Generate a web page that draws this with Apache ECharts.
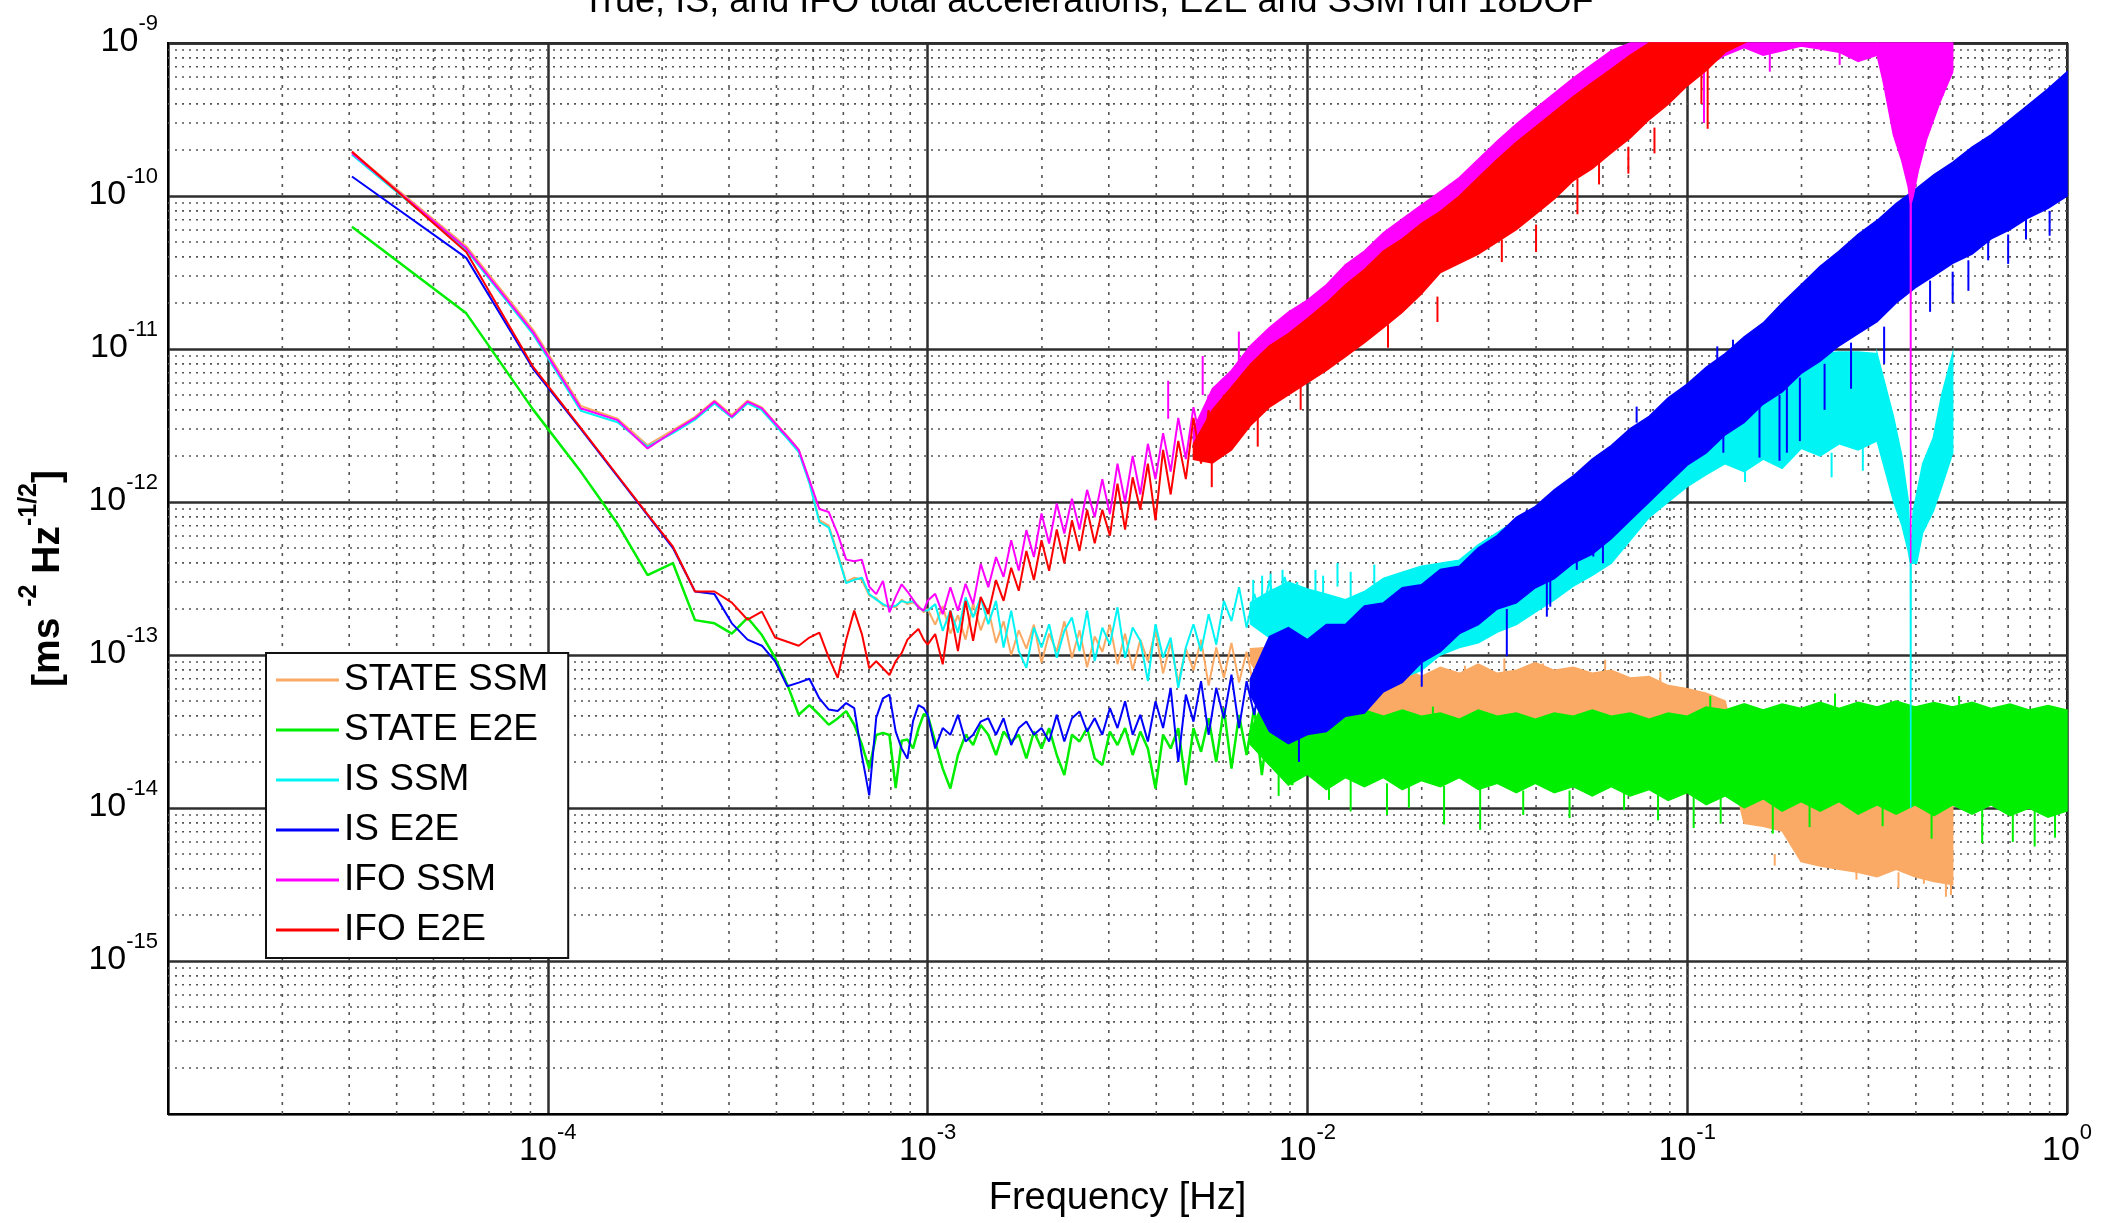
<!DOCTYPE html>
<html>
<head>
<meta charset="utf-8">
<title>True, IS, and IFO total accelerations</title>
<script src="https://cdn.jsdelivr.net/npm/echarts@6/dist/echarts.min.js"></script>
<style>
  html, body { margin: 0; padding: 0; background: #fff; }
  #chart { width: 2105px; height: 1223px; }
</style>
</head>
<body>
<div id="chart"></div>
<script>
// frequency bins of the low part (Hz)
const lowFreq = [3.05e-5, 6.10e-5, 9.16e-5, 1.221e-4, 1.526e-4, 1.831e-4, 2.136e-4, 2.441e-4, 2.747e-4, 3.052e-4,
    3.357e-4, 3.662e-4, 3.967e-4, 4.272e-4, 4.578e-4, 4.883e-4, 5.188e-4, 5.493e-4, 5.798e-4, 6.104e-4,
    6.409e-4, 6.714e-4, 7.019e-4, 7.324e-4, 7.629e-4, 7.935e-4, 8.240e-4, 8.545e-4, 8.850e-4, 9.155e-4,
    9.460e-4, 9.766e-4];

// frequencies of the noisy middle part (Hz)
const midFreq = [1.000e-3, 1.047e-3, 1.096e-3, 1.148e-3, 1.202e-3, 1.259e-3, 1.318e-3, 1.380e-3, 1.445e-3, 1.514e-3,
    1.585e-3, 1.660e-3, 1.738e-3, 1.820e-3, 1.905e-3, 1.995e-3, 2.089e-3, 2.188e-3, 2.291e-3, 2.399e-3,
    2.512e-3, 2.630e-3, 2.754e-3, 2.884e-3, 3.020e-3, 3.162e-3, 3.311e-3, 3.467e-3, 3.631e-3, 3.802e-3,
    3.981e-3, 4.169e-3, 4.365e-3, 4.571e-3, 4.786e-3, 5.012e-3, 5.248e-3, 5.495e-3, 5.754e-3, 6.026e-3,
    6.310e-3, 6.607e-3, 6.918e-3, 7.244e-3, 7.586e-3, 7.943e-3, 8.318e-3, 8.710e-3, 9.120e-3, 9.550e-3,
    1.000e-2];

// frequencies where the dense part is read as an envelope (Hz)
const bandFreq = [5.012e-3, 5.623e-3, 6.310e-3, 7.079e-3, 7.943e-3, 8.913e-3, 1.0e-2, 1.122e-2, 1.259e-2, 1.413e-2,
    1.585e-2, 1.778e-2, 1.995e-2, 2.239e-2, 2.512e-2, 2.818e-2, 3.162e-2, 3.548e-2, 3.981e-2, 4.467e-2,
    5.012e-2, 5.623e-2, 6.310e-2, 7.079e-2, 7.943e-2, 8.913e-2, 0.1, 0.1122, 0.1259, 0.1413,
    0.1585, 0.1778, 0.1995, 0.2239, 0.2512, 0.2818, 0.3162, 0.3548, 0.3981, 0.4467,
    0.5, 0.5623, 0.6310, 0.7079, 0.7943, 0.8913, 1.0];

// STATE SSM
const orangeLow = [1.93e-10, 4.7e-11, 1.33e-11, 4.25e-12, 3.5e-12, 2.35e-12, 2.95e-12, 3.6e-12, 4.6e-12, 3.7e-12,
    4.6e-12, 4.15e-12, 3.3e-12, 2.7e-12, 2.2e-12, 1.35e-12, 7.6e-13, 7.0e-13, 4.6e-13, 3.0e-13,
    3.2e-13, 3.1e-13, 2.45e-13, 2.35e-13, 2.1e-13, 2.1e-13, 2.05e-13, 2.3e-13, 2.15e-13, 2.2e-13,
    2.1e-13, 1.9e-13];
const orangeMid = [2.0e-13, 1.58e-13, 2.09e-13, 1.38e-13, 1.82e-13, 1.26e-13, 2.19e-13, 1.45e-13, 2.0e-13, 1.20e-13,
    1.66e-13, 1.0e-13, 1.45e-13, 1.10e-13, 1.58e-13, 8.91e-14, 1.38e-13, 1.05e-13, 1.66e-13, 9.55e-14,
    1.45e-13, 8.32e-14, 1.32e-13, 1.05e-13, 1.58e-13, 8.71e-14, 1.38e-13, 7.94e-14, 1.26e-13, 9.12e-14,
    1.45e-13, 7.59e-14, 1.20e-13, 6.61e-14, 1.10e-13, 7.94e-14, 1.26e-13, 6.31e-14, 1.12e-13, 7.08e-14,
    1.20e-13, 6.61e-14, 1.05e-13, 6.03e-14, 1.12e-13, 7.24e-14, 1.26e-13, 6.31e-14, 1.05e-13, 7.08e-14,
    1.12e-13];
const orangeHi = [null, null, null, 1.10e-13, 1.12e-13, 1.32e-13, 1.00e-13, 1.05e-13, 7.94e-14, 8.91e-14,
    7.59e-14, 8.32e-14, 7.24e-14, 8.32e-14, 7.59e-14, 8.71e-14, 7.59e-14, 7.94e-14, 8.91e-14, 7.94e-14,
    8.32e-14, 7.59e-14, 7.94e-14, 7.08e-14, 7.24e-14, 6.31e-14, 6.03e-14, 5.62e-14, 5.01e-14, 1.41e-14,
    1.41e-14, 1.41e-14, 1.41e-14, 1.41e-14, 1.41e-14, 1.41e-14, 1.41e-14, 1.41e-14, 1.41e-14, 1.41e-14,
    1.41e-14, null, null, null, null, null, null];
const orangeLo = [null, null, null, 9.0e-14, 5.62e-14, 5.01e-14, 5.25e-14, 4.47e-14, 3.98e-14, 3.55e-14,
    3.55e-14, 3.16e-14, 3.31e-14, 3.16e-14, 3.31e-14, 3.16e-14, 3.31e-14, 3.16e-14, 3.31e-14, 3.16e-14,
    3.31e-14, 3.02e-14, 3.16e-14, 3.02e-14, 3.16e-14, 2.82e-14, 2.82e-14, 2.63e-14, 2.51e-14, 7.94e-15,
    7.59e-15, 7.08e-15, 4.47e-15, 4.17e-15, 3.98e-15, 3.80e-15, 3.55e-15, 3.98e-15, 3.55e-15, 3.31e-15,
    3.16e-15, null, null, null, null, null, null];
const orangeSpikes = [[1.35e-2, 1.5e-13, 1.0e-13], [1.9e-2, 1.2e-13, 8.0e-14], [2.6e-2, 8.5e-14, 6.5e-14],
    [3.3e-2, 9.5e-14, 7.0e-14], [4.17e-2, 8.8e-14, 6.5e-14], [6.08e-2, 9.3e-14, 6.5e-14], [8.5e-2, 7.8e-14, 6.0e-14],
    [0.17, 4.2e-15, 5.0e-15], [0.279, 3.4e-15, 4.2e-15], [0.36, 3.0e-15, 3.8e-15], [0.42, 3.2e-15, 3.8e-15],
    [0.48, 2.63e-15, 3.6e-15], [0.495, 2.7e-15, 3.5e-15]];

// STATE E2E
const greenLow = [6.3e-11, 1.71e-11, 4.0e-12, 1.58e-12, 7.2e-13, 3.33e-13, 3.98e-13, 1.69e-13, 1.61e-13, 1.38e-13,
    1.75e-13, 1.35e-13, 9.6e-14, 6.4e-14, 4.07e-14, 4.7e-14, 4.07e-14, 3.5e-14, 3.85e-14, 4.3e-14,
    3.5e-14, 2.6e-14, 1.81e-14, 3.0e-14, 3.1e-14, 3.0e-14, 1.35e-14, 2.75e-14, 2.8e-14, 2.45e-14,
    3.3e-14, 4.1e-14];
const greenMid = [4.06e-14, 2.72e-14, 1.81e-14, 1.34e-14, 2.22e-14, 3.01e-14, 2.58e-14, 3.49e-14, 3.01e-14, 2.22e-14,
    3.16e-14, 2.72e-14, 3.01e-14, 2.11e-14, 3.16e-14, 2.45e-14, 3.33e-14, 2.22e-14, 1.64e-14, 3.01e-14,
    2.72e-14, 3.33e-14, 2.11e-14, 1.91e-14, 3.16e-14, 2.58e-14, 3.33e-14, 2.22e-14, 3.16e-14, 2.45e-14,
    1.34e-14, 3.01e-14, 2.45e-14, 3.33e-14, 1.41e-14, 3.33e-14, 2.33e-14, 3.86e-14, 2.00e-14, 4.50e-14,
    1.81e-14, 4.06e-14, 2.22e-14, 4.50e-14, 1.64e-14, 4.06e-14, 2.00e-14, 4.28e-14, 1.41e-14, 3.86e-14,
    2.22e-14];
const greenHi = [null, null, null, 3.2e-14, 6.03e-14, 7.08e-14, 5.62e-14, 5.01e-14, 4.17e-14, 4.37e-14,
    3.98e-14, 4.37e-14, 3.98e-14, 4.17e-14, 3.80e-14, 4.37e-14, 3.98e-14, 4.17e-14, 3.80e-14, 4.17e-14,
    3.98e-14, 4.37e-14, 3.98e-14, 4.17e-14, 3.80e-14, 4.17e-14, 3.98e-14, 4.57e-14, 4.37e-14, 4.79e-14,
    4.37e-14, 4.79e-14, 4.47e-14, 4.90e-14, 4.47e-14, 4.90e-14, 4.57e-14, 5.01e-14, 4.57e-14, 4.90e-14,
    4.57e-14, 4.90e-14, 4.47e-14, 4.79e-14, 4.37e-14, 4.68e-14, 4.37e-14];
const greenLo = [null, null, null, 2.6e-14, 1.91e-14, 1.41e-14, 1.66e-14, 1.32e-14, 1.58e-14, 1.38e-14,
    1.58e-14, 1.32e-14, 1.51e-14, 1.38e-14, 1.58e-14, 1.32e-14, 1.45e-14, 1.26e-14, 1.45e-14, 1.26e-14,
    1.38e-14, 1.20e-14, 1.38e-14, 1.20e-14, 1.32e-14, 1.12e-14, 1.26e-14, 1.05e-14, 1.20e-14, 1.00e-14,
    1.15e-14, 9.55e-15, 1.10e-14, 9.55e-15, 1.10e-14, 9.12e-15, 1.05e-14, 9.12e-15, 1.05e-14, 8.91e-15,
    1.05e-14, 9.12e-15, 1.05e-14, 8.91e-15, 1.00e-14, 8.71e-15, 9.55e-15];
const greenSpikes = [[8.4e-3, 1.2e-14, 2.2e-14], [1.14e-2, 1.13e-14, 2.0e-14], [1.3e-2, 9.5e-15, 1.6e-14],
    [1.62e-2, 9.0e-15, 1.45e-14], [1.85e-2, 1.0e-14, 1.5e-14], [2.29e-2, 7.8e-15, 1.4e-14],
    [2.85e-2, 7.2e-15, 1.5e-14], [3.7e-2, 9.0e-15, 1.3e-14], [4.9e-2, 8.6e-15, 1.3e-14], [6.82e-2, 9.7e-15, 1.4e-14],
    [8.38e-2, 8.3e-15, 1.3e-14], [0.104, 7.4e-15, 1.2e-14], [0.1225, 7.9e-15, 1.2e-14], [0.168, 6.8e-15, 1.1e-14],
    [0.21, 7.5e-15, 1.1e-14], [0.327, 7.6e-15, 1.05e-14], [0.44, 6.3e-15, 1.0e-14], [0.598, 5.9e-15, 1.05e-14],
    [0.72, 6.0e-15, 1.0e-14], [0.822, 5.6e-15, 1.0e-14], [0.93, 6.4e-15, 1.0e-14],
    [1.05e-2, 8.0e-14, 5.0e-14], [2.14e-2, 4.6e-14, 3.6e-14], [0.115, 5.4e-14, 4.3e-14], [0.245, 5.6e-14, 4.4e-14],
    [0.52, 5.4e-14, 4.4e-14]];

// IS SSM
const cyanLow = [1.86e-10, 4.45e-11, 1.24e-11, 3.95e-12, 3.32e-12, 2.3e-12, 2.82e-12, 3.45e-12, 4.4e-12, 3.55e-12,
    4.42e-12, 3.98e-12, 3.18e-12, 2.6e-12, 2.12e-12, 1.33e-12, 7.4e-13, 6.8e-13, 4.5e-13, 2.95e-13,
    3.1e-13, 3.2e-13, 2.5e-13, 2.3e-13, 2.15e-13, 2.05e-13, 2.1e-13, 2.25e-13, 2.2e-13, 2.25e-13,
    2.05e-13, 1.95e-13];
const cyanMid = [1.95e-13, 2.15e-13, 1.44e-13, 1.95e-13, 1.40e-13, 2.38e-13, 1.76e-13, 2.38e-13, 1.59e-13, 2.26e-13,
    1.12e-13, 1.95e-13, 1.06e-13, 8.24e-14, 1.51e-13, 1.12e-13, 1.59e-13, 9.59e-14, 1.44e-13, 1.76e-13,
    1.06e-13, 1.95e-13, 9.12e-14, 1.51e-13, 1.17e-13, 2.05e-13, 9.59e-14, 1.51e-13, 1.24e-13, 6.75e-14,
    1.59e-13, 9.59e-14, 1.30e-13, 6.10e-14, 1.12e-13, 1.59e-13, 1.06e-13, 1.85e-13, 1.17e-13, 2.26e-13,
    1.67e-13, 2.77e-13, 1.51e-13, 2.51e-13, 1.76e-13, 3.07e-13, 1.85e-13, 3.24e-13, 2.05e-13, 2.77e-13,
    2.26e-13];
const cyanHi = [null, null, null, 2.2e-13, 2.6e-13, 3.0e-13, 2.7e-13, 2.5e-13, 2.3e-13, 2.6e-13,
    3.16e-13, 3.47e-13, 3.80e-13, 3.98e-13, 4.17e-13, 5.25e-13, 6.31e-13, 7.59e-13, 9.33e-13, 1.12e-12,
    1.41e-12, 1.66e-12, 2.09e-12, 2.63e-12, 3.16e-12, 3.80e-12, 4.47e-12, 5.25e-12, 6.31e-12, 7.08e-12,
    7.94e-12, 8.32e-12, 8.91e-12, 9.33e-12, 9.55e-12, 9.55e-12, 9.33e-12, null, null, null,
    null, null, null, null, null, null, null];
const cyanLo = [null, null, null, 1.6e-13, 1.3e-13, 1.1e-13, 1.2e-13, 1.05e-13, 1.1e-13, 9.0e-14,
    6.31e-14, 7.08e-14, 7.94e-14, 1.00e-13, 1.12e-13, 1.20e-13, 1.41e-13, 1.58e-13, 1.91e-13, 2.29e-13,
    2.82e-13, 3.31e-13, 3.98e-13, 5.62e-13, 7.94e-13, 1.00e-12, 1.26e-12, 1.51e-12, 1.78e-12, 1.58e-12,
    1.91e-12, 1.66e-12, 2.24e-12, 2.00e-12, 2.40e-12, 2.19e-12, 2.51e-12, null, null, null,
    null, null, null, null, null, null, null];
const cyanNotchFreq = [0.3162, 0.3491, 0.3673, 0.3819, 0.3868, 0.3877, 0.3886, 0.3936, 0.4018, 0.4169, 0.4446, 0.4677, 0.5];
const cyanNotchHi = [9.33e-12, 3.63e-12, 2.0e-12, 1.02e-12, 5.01e-13, 4.47e-13, 4.47e-13, 8.71e-13, 1.12e-12, 1.78e-12, 2.63e-12, 5.01e-12, 9.33e-12];
const cyanNotchLo = [2.51e-12, 1.02e-12, 7.08e-13, 4.79e-13, 3.98e-13, 1.0e-14, 3.98e-13, 3.98e-13, 3.98e-13, 6.31e-13, 8.71e-13, 1.26e-12, 2.09e-12];
const cyanSpikes = [[7.2e-3, 3.1e-13, 2.0e-13], [7.6e-3, 3.3e-13, 2.0e-13], [8.0e-3, 3.4e-13, 2.2e-13],
    [8.6e-3, 3.6e-13, 2.4e-13], [9.4e-3, 3.0e-13, 2.0e-13], [1.05e-2, 3.6e-13, 2.4e-13], [1.1e-2, 3.3e-13, 2.3e-13],
    [1.2e-2, 4.0e-13, 2.8e-13], [1.3e-2, 3.5e-13, 2.4e-13], [1.5e-2, 3.9e-13, 2.9e-13],
    [0.142, 1.35e-12, 2.0e-12], [0.24, 1.45e-12, 2.1e-12], [0.29, 1.6e-12, 2.3e-12]];

// IS E2E
const blueLow = [1.34e-10, 3.94e-11, 7.4e-12, 3.0e-12, 1.47e-12, 8.2e-13, 5.0e-13, 2.6e-13, 2.5e-13, 1.61e-13,
    1.26e-13, 1.15e-13, 9.1e-14, 6.25e-14, 6.6e-14, 7.0e-14, 5.2e-14, 4.4e-14, 4.3e-14, 4.85e-14,
    4.5e-14, 2.2e-14, 1.21e-14, 3.9e-14, 5.2e-14, 5.5e-14, 3.16e-14, 2.45e-14, 2.1e-14, 3.7e-14,
    4.7e-14, 4.5e-14];
const blueMid = [4.06e-14, 2.45e-14, 3.33e-14, 3.01e-14, 4.06e-14, 2.72e-14, 3.01e-14, 3.67e-14, 3.86e-14, 3.01e-14,
    3.86e-14, 2.58e-14, 3.33e-14, 3.67e-14, 3.01e-14, 3.33e-14, 2.72e-14, 4.06e-14, 2.72e-14, 3.86e-14,
    4.28e-14, 3.16e-14, 3.86e-14, 3.01e-14, 4.50e-14, 3.33e-14, 4.98e-14, 3.01e-14, 4.06e-14, 2.72e-14,
    4.98e-14, 3.33e-14, 6.10e-14, 2.00e-14, 5.51e-14, 3.67e-14, 6.75e-14, 3.01e-14, 6.10e-14, 3.86e-14,
    7.45e-14, 3.33e-14, 6.75e-14, 4.06e-14, 8.24e-14, 3.67e-14, 7.45e-14, 4.50e-14, 9.12e-14, 4.98e-14,
    8.24e-14];
const blueHi = [null, null, null, 7.0e-14, 1.32e-13, 1.51e-13, 1.26e-13, 1.58e-13, 1.58e-13, 2.09e-13,
    2.19e-13, 2.75e-13, 2.88e-13, 3.63e-13, 3.80e-13, 5.01e-13, 6.03e-13, 7.94e-13, 9.33e-13, 1.20e-12,
    1.48e-12, 1.91e-12, 2.34e-12, 3.02e-12, 3.63e-12, 4.79e-12, 5.89e-12, 7.59e-12, 9.33e-12, 1.20e-11,
    1.48e-11, 2.00e-11, 2.63e-11, 3.47e-11, 4.37e-11, 5.62e-11, 6.92e-11, 8.91e-11, 1.10e-10, 1.38e-10,
    1.66e-10, 2.09e-10, 2.51e-10, 3.16e-10, 3.98e-10, 5.01e-10, 6.46e-10];
const blueLo = [null, null, null, 5.5e-14, 3.16e-14, 2.63e-14, 3.02e-14, 3.16e-14, 3.98e-14, 4.17e-14,
    5.75e-14, 6.61e-14, 8.91e-14, 1.05e-13, 1.38e-13, 1.58e-13, 2.00e-13, 2.19e-13, 2.75e-13, 3.16e-13,
    3.98e-13, 4.57e-13, 5.75e-13, 7.59e-13, 1.00e-12, 1.32e-12, 1.74e-12, 2.09e-12, 2.75e-12, 3.31e-12,
    4.37e-12, 5.25e-12, 6.92e-12, 8.32e-12, 1.05e-11, 1.26e-11, 1.51e-11, 2.00e-11, 2.51e-11, 3.02e-11,
    3.63e-11, 4.17e-11, 5.25e-11, 6.03e-11, 7.24e-11, 8.32e-11, 1.00e-10];
const blueSpikes = [[9.5e-3, 2.0e-14, 3.5e-14], [2.0e-2, 6.2e-14, 1.1e-13], [2.9e-2, 1.86e-13, 3.0e-13],
    [3.35e-2, 9.8e-14, 2.0e-13], [3.83e-2, 3.06e-13, 5.0e-13], [4.27e-2, 1.78e-13, 3.3e-13],
    [4.36e-2, 2.07e-13, 3.3e-13], [5.12e-2, 3.6e-13, 5.0e-13], [5.66e-2, 4.4e-13, 6.5e-13],
    [6.0e-2, 3.98e-13, 5.2e-13], [0.1245, 2.1e-12, 3.4e-12], [0.155, 1.95e-12, 4.2e-12],
    [0.175, 1.86e-12, 5.0e-12], [0.183, 2.1e-12, 5.6e-12], [0.198, 2.5e-12, 6.5e-12], [0.23, 4.0e-12, 8.0e-12],
    [0.27, 5.5e-12, 1.1e-11], [0.33, 8.0e-12, 1.4e-11], [0.436, 1.75e-11, 2.8e-11], [0.5, 2.0e-11, 3.2e-11],
    [0.55, 2.4e-11, 3.8e-11], [0.62, 3.8e-11, 5.5e-11], [0.7, 3.6e-11, 5.6e-11], [0.78, 5.2e-11, 7.2e-11],
    [0.9, 5.5e-11, 8.0e-11],
    [3.78e-2, 8.9e-13, 6.9e-13], [7.36e-2, 4.2e-12, 3.3e-12], [0.12, 1.04e-11, 8.5e-12], [0.132, 1.15e-11, 9.5e-12]];

// IFO SSM
const magentaLow = [1.90e-10, 4.55e-11, 1.28e-11, 4.1e-12, 3.43e-12, 2.24e-12, 2.88e-12, 3.53e-12, 4.53e-12, 3.61e-12,
    4.53e-12, 4.09e-12, 3.27e-12, 2.67e-12, 2.19e-12, 1.39e-12, 9.0e-13, 8.6e-13, 6.2e-13, 4.2e-13,
    4.1e-13, 4.2e-13, 2.8e-13, 2.5e-13, 3.05e-13, 1.9e-13, 2.4e-13, 2.9e-13, 2.6e-13, 2.3e-13,
    2.05e-13, 1.95e-13];
const magentaMid = [2.26e-13, 2.51e-13, 1.85e-13, 2.77e-13, 1.95e-13, 2.92e-13, 2.15e-13, 3.94e-13, 2.77e-13, 4.37e-13,
    3.24e-13, 5.62e-13, 3.56e-13, 6.55e-13, 4.37e-13, 8.41e-13, 5.35e-13, 9.77e-13, 6.22e-13, 1.05e-12,
    6.61e-13, 1.20e-12, 7.94e-13, 1.41e-12, 8.32e-13, 1.78e-12, 1.0e-12, 2.0e-12, 1.12e-12, 2.40e-12,
    1.41e-12, 2.82e-12, 1.58e-12, 3.55e-12, 1.91e-12, 4.17e-12, 2.40e-12, 5.01e-12, 2.82e-12, 6.03e-12,
    3.31e-12];
const magentaHi = [3.0e-12, 5.5e-12, 7.24e-12, 1.05e-11, 1.38e-11, 1.74e-11, 2.09e-11, 2.63e-11, 3.55e-11, 4.37e-11,
    5.75e-11, 7.08e-11, 8.71e-11, 1.07e-10, 1.32e-10, 1.74e-10, 2.29e-10, 2.95e-10, 3.72e-10, 4.68e-10,
    5.89e-10, 7.24e-10, 8.91e-10, 1e-9, 1e-9, 1e-9, 1e-9, 1e-9, 1e-9, 1e-9,
    1e-9, 1e-9, 1e-9, 1e-9, 1e-9, 1e-9, 1e-9, null, null, null,
    null, null, null, null, null, null, null];
const magentaLo = [2.4e-12, 2.0e-12, 2.51e-12, 3.55e-12, 4.68e-12, 5.62e-12, 6.92e-12, 8.32e-12, 1.02e-11, 1.26e-11,
    1.58e-11, 2.0e-11, 2.63e-11, 3.55e-11, 4.17e-11, 4.79e-11, 5.75e-11, 6.92e-11, 8.71e-11, 1.10e-10,
    1.41e-10, 1.74e-10, 2.19e-10, 2.75e-10, 3.55e-10, 4.47e-10, 6.03e-10, 7.0e-10, 8.32e-10, 9.33e-10,
    8.32e-10, 8.91e-10, 9.55e-10, 9.12e-10, 8.71e-10, 7.59e-10, 8.32e-10, null, null, null,
    null, null, null, null, null, null, null];
const magentaNotchFreq = [0.3162, 0.3281, 0.3491, 0.3673, 0.3819, 0.3868, 0.3877, 0.3886, 0.3936, 0.4055, 0.4266, 0.4624, 0.4786, 0.5];
const magentaNotchHi = [1e-9, 1e-9, 1e-9, 1e-9, 1e-9, 1e-9, 1e-9, 1e-9, 1e-9, 1e-9, 1e-9, 1e-9, 1e-9, 1e-9];
const magentaNotchLo = [8.32e-10, 5.62e-10, 2.51e-10, 1.70e-10, 1.15e-10, 8.91e-11, 3.98e-13, 8.91e-11, 1.0e-10, 1.45e-10, 2.34e-10, 4.07e-10, 5.01e-10, 6.46e-10];
const magentaSpikes = [[4.3e-3, 6.2e-12, 3.5e-12], [5.3e-3, 9.0e-12, 5.0e-12], [6.6e-3, 1.3e-11, 8.0e-12],
    [0.1107, 3.0e-10, 8.0e-10], [0.165, 6.5e-10, 1e-9], [0.252, 7.2e-10, 1e-9], [0.47, 4.5e-10, 8.0e-10]];

// IFO E2E
const redLow = [1.95e-10, 4.3e-11, 7.6e-12, 3.05e-12, 1.49e-12, 8.3e-13, 5.1e-13, 2.6e-13, 2.6e-13, 2.2e-13,
    1.7e-13, 1.92e-13, 1.3e-13, 1.22e-13, 1.15e-13, 1.3e-13, 1.4e-13, 9.6e-14, 7.1e-14, 1.26e-13,
    1.95e-13, 1.37e-13, 8.2e-14, 9.1e-14, 8.2e-14, 7.4e-14, 9.1e-14, 1.03e-13, 1.26e-13, 1.37e-13,
    1.48e-13, 1.26e-13];
const redMid = [1.17e-13, 1.37e-13, 8.7e-14, 1.95e-13, 1.06e-13, 2.26e-13, 1.24e-13, 2.4e-13, 1.86e-13, 3.09e-13,
    2.26e-13, 3.72e-13, 2.63e-13, 4.79e-13, 3.09e-13, 5.62e-13, 3.55e-13, 6.61e-13, 3.98e-13, 7.59e-13,
    4.79e-13, 8.91e-13, 5.37e-13, 8.91e-13, 6.03e-13, 1.32e-12, 6.61e-13, 1.45e-12, 8.91e-13, 1.78e-12,
    7.59e-13, 2.19e-12, 1.12e-12, 2.51e-12, 1.41e-12, 3.55e-12, 1.78e-12, 3.98e-12, 2.09e-12, 5.01e-12,
    2.63e-12];
const redHi = [2.4e-12, 4.0e-12, 5.62e-12, 7.94e-12, 1.05e-11, 1.26e-11, 1.58e-11, 2.0e-11, 2.63e-11, 3.31e-11,
    4.37e-11, 5.25e-11, 6.61e-11, 7.94e-11, 1.0e-10, 1.32e-10, 1.74e-10, 2.24e-10, 2.82e-10, 3.55e-10,
    4.47e-10, 5.50e-10, 6.76e-10, 8.32e-10, 1e-9, 1e-9, 1e-9, 1e-9, 1e-9, 1e-9,
    null, null, null, null, null, null, null, null, null, null,
    null, null, null, null, null, null, null];
const redLo = [1.9e-12, 1.8e-12, 2.19e-12, 3.16e-12, 4.17e-12, 5.01e-12, 6.03e-12, 7.24e-12, 8.91e-12, 1.10e-11,
    1.38e-11, 1.74e-11, 2.29e-11, 3.16e-11, 3.63e-11, 4.17e-11, 5.01e-11, 6.03e-11, 7.59e-11, 9.55e-11,
    1.26e-10, 1.51e-10, 1.91e-10, 2.40e-10, 3.16e-10, 3.98e-10, 5.25e-10, 6.61e-10, 8.71e-10, 1e-9,
    null, null, null, null, null, null, null, null, null, null,
    null, null, null, null, null, null, null];
const redSpikes = [[5.6e-3, 1.25e-12, 2.0e-12], [7.4e-3, 2.3e-12, 3.6e-12], [9.6e-3, 4.0e-12, 5.8e-12],
    [1.63e-2, 1.02e-11, 1.45e-11], [2.2e-2, 1.5e-11, 2.2e-11], [3.25e-2, 3.7e-11, 5.2e-11], [4.0e-2, 4.3e-11, 6.5e-11],
    [5.14e-2, 7.6e-11, 1.3e-10], [5.86e-2, 1.19e-10, 1.7e-10], [7.0e-2, 1.4e-10, 2.1e-10], [8.2e-2, 1.9e-10, 2.8e-10],
    [0.109, 4.0e-10, 7.5e-10], [0.1132, 2.75e-10, 6.8e-10]];

// axis decades and minor grid steps
const xDecades = [1e-5, 1e-4, 1e-3, 1e-2, 1e-1];
const yDecades = [1e-16, 1e-15, 1e-14, 1e-13, 1e-12, 1e-11, 1e-10];
const minorSteps = [2, 3, 4, 5, 6, 7, 8, 9];

const FONT = 'Liberation Sans, Arial, Helvetica, sans-serif';

function zip(freq, vals) {
    const out = [];
    vals.forEach((v, i) => { if (v != null) out.push([freq[i], v]); });
    return out;
}

function lineSeries(name, color, low, mid, width, z) {
    return {
        name: name,
        type: 'line',
        z: z,
        showSymbol: false,
        symbol: 'none',
        silent: true,
        color: color,
        lineStyle: { color: color, width: width },
        data: zip(lowFreq, low).concat(zip(midFreq, mid))
    };
}

// filled envelope of the dense part, drawn through the axes' scales
function bandSeries(color, freq, hi, lo, z) {
    const pts = [];
    freq.forEach((f, i) => {
        if (hi[i] != null && lo[i] != null) pts.push([f, hi[i], lo[i]]);
    });
    return {
        type: 'custom',
        z: z,
        silent: true,
        data: pts,
        encode: { x: 0, y: [1, 2] },
        renderItem: function (params, api) {
            if (params.dataIndex !== 0) return null;
            const top = pts.map(p => api.coord([p[0], p[1]]));
            const bottom = pts.map(p => api.coord([p[0], p[2]])).reverse();
            return {
                type: 'polygon',
                shape: { points: top.concat(bottom) },
                style: { fill: color, stroke: color, lineWidth: 1.5 }
            };
        }
    };
}

// single visible spikes: [frequency, tip, base]
function spikeSeries(color, spikes, z) {
    return {
        type: 'custom',
        z: z,
        silent: true,
        data: spikes,
        encode: { x: 0, y: [1, 2] },
        renderItem: function (params, api) {
            const a = api.coord([api.value(0), api.value(1)]);
            const b = api.coord([api.value(0), api.value(2)]);
            return {
                type: 'line',
                shape: { x1: a[0], y1: a[1], x2: b[0], y2: b[1] },
                style: { stroke: color, lineWidth: 2 }
            };
        }
    };
}

// dotted minor grid at 2..9 of every decade
function minorGridSeries(vertical, values) {
    return {
        type: 'custom',
        z: 1,
        silent: true,
        data: values.map(v => vertical ? [v, 1e-16] : [1e-5, v]),
        encode: { x: 0, y: 1 },
        renderItem: function (params, api) {
            const v = api.value(vertical ? 0 : 1);
            const a = vertical ? api.coord([v, 1e-16]) : api.coord([1e-5, v]);
            const b = vertical ? api.coord([v, 1e-9]) : api.coord([1, v]);
            return {
                type: 'line',
                shape: { x1: a[0], y1: a[1], x2: b[0], y2: b[1] },
                style: { stroke: '#555', lineWidth: 1.6, lineDash: vertical ? [3, 6] : [2, 5] }
            };
        }
    };
}

function powerLabel(hidden) {
    return function (value) {
        const e = Math.round(Math.log10(value));
        if (e === hidden) return '';
        return '{b|10}{s|' + e + '}';
    };
}

const labelRich = {
    b: { fontSize: 34, fontFamily: FONT, color: '#000', padding: [12, 0, 14, 0] },
    s: { fontSize: 22, fontFamily: FONT, color: '#000', verticalAlign: 'top' }
};

function loadChart() {
    const chart = echarts.init(document.getElementById('chart'), null, { renderer: 'canvas' });

    const xMinor = [];
    const yMinor = [];
    xDecades.forEach(d => minorSteps.forEach(m => xMinor.push(d * m)));
    yDecades.forEach(d => minorSteps.forEach(m => yMinor.push(d * m)));

    const C = {
        orange: '#FAAA64',
        green: '#00EE00',
        cyan: '#00F4F4',
        blue: '#0000FF',
        magenta: '#FF00FF',
        red: '#FF0000'
    };

    chart.setOption({
        animation: false,
        backgroundColor: '#fff',
        title: {
            text: 'True, IS, and IFO total accelerations, E2E and SSM run 18DOF',
            left: 1083,
            top: -21,
            textAlign: 'center',
            textStyle: { fontSize: 36, fontWeight: 'normal', fontFamily: FONT, color: '#000' }
        },
        legend: {
            orient: 'vertical',
            left: 266,
            top: 653,
            padding: [7, 20, 8, 10],
            itemGap: 10,
            itemWidth: 63,
            itemHeight: 3,
            icon: 'rect',
            selectedMode: false,
            backgroundColor: '#fff',
            borderColor: '#111',
            borderWidth: 2,
            z: 20,
            textStyle: { fontSize: 37, fontFamily: FONT, color: '#000', lineHeight: 40 },
            data: ['STATE SSM', 'STATE E2E', 'IS SSM', 'IS E2E', 'IFO SSM', 'IFO E2E']
        },
        grid: {
            left: 168, right: 38, top: 43, bottom: 109,
            show: true, borderColor: '#000', borderWidth: 2, backgroundColor: '#fff'
        },
        xAxis: {
            type: 'log',
            logBase: 10,
            min: 1e-5,
            max: 1,
            name: 'Frequency [Hz]',
            nameLocation: 'middle',
            nameGap: 66,
            nameTextStyle: { fontSize: 38, fontFamily: FONT, color: '#000' },
            axisLine: { show: true, lineStyle: { color: '#000', width: 2 } },
            axisTick: { show: false },
            axisLabel: { interval: 0, margin: 8, formatter: powerLabel(-5), rich: labelRich },
            splitLine: { show: true, lineStyle: { color: '#2e2e2e', width: 2.5 } }
        },
        yAxis: {
            type: 'log',
            logBase: 10,
            min: 1e-16,
            max: 1e-9,
            name: '{a|[ms }{s|-2}{a| Hz}{s|-1/2}{a|]}',
            nameLocation: 'middle',
            nameGap: 100,
            nameTextStyle: {
                fontFamily: FONT,
                rich: {
                    a: { fontSize: 39, fontWeight: 'bold', fontFamily: FONT, color: '#000', padding: [12, 0, 0, 0] },
                    s: { fontSize: 25, fontWeight: 'bold', fontFamily: FONT, color: '#000', verticalAlign: 'top' }
                }
            },
            axisLine: { show: true, lineStyle: { color: '#000', width: 2 } },
            axisTick: { show: false },
            axisLabel: { interval: 0, margin: 10, formatter: powerLabel(-16), rich: labelRich },
            splitLine: { show: true, lineStyle: { color: '#2e2e2e', width: 2.5 } }
        },
        series: [
            minorGridSeries(true, xMinor),
            minorGridSeries(false, yMinor),

            lineSeries('STATE SSM', C.orange, orangeLow, orangeMid, 2, 3),
            bandSeries(C.orange, bandFreq, orangeHi, orangeLo, 3),
            spikeSeries(C.orange, orangeSpikes, 3),

            lineSeries('STATE E2E', C.green, greenLow, greenMid, 2.5, 4),
            bandSeries(C.green, bandFreq, greenHi, greenLo, 4),
            spikeSeries(C.green, greenSpikes, 4),

            lineSeries('IS SSM', C.cyan, cyanLow, cyanMid, 2, 5),
            bandSeries(C.cyan, bandFreq, cyanHi, cyanLo, 5),
            bandSeries(C.cyan, cyanNotchFreq, cyanNotchHi, cyanNotchLo, 5),
            spikeSeries(C.cyan, cyanSpikes, 5),

            lineSeries('IS E2E', C.blue, blueLow, blueMid, 2, 6),
            bandSeries(C.blue, bandFreq, blueHi, blueLo, 6),
            spikeSeries(C.blue, blueSpikes, 6),

            lineSeries('IFO SSM', C.magenta, magentaLow, magentaMid, 2, 7),
            bandSeries(C.magenta, bandFreq, magentaHi, magentaLo, 7),
            bandSeries(C.magenta, magentaNotchFreq, magentaNotchHi, magentaNotchLo, 7),
            spikeSeries(C.magenta, magentaSpikes, 7),

            lineSeries('IFO E2E', C.red, redLow, redMid, 2, 8),
            bandSeries(C.red, bandFreq, redHi, redLo, 8),
            spikeSeries(C.red, redSpikes, 8)
        ]
    });

    window.addEventListener('resize', () => chart.resize());
}

document.addEventListener('DOMContentLoaded', loadChart);
</script>
</body>
</html>
